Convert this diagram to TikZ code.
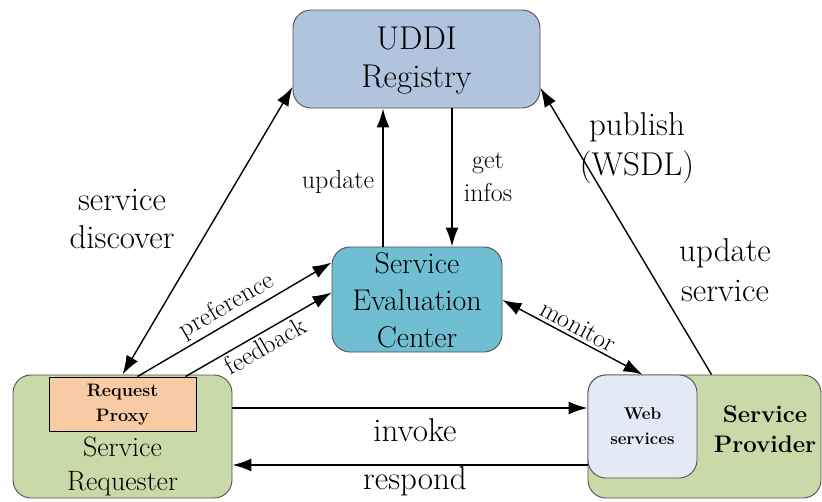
\documentclass[tikz,border=0pt]{standalone}
\usepackage{fontspec}
\usetikzlibrary{arrows.meta}
\definecolor{uddiblue}{HTML}{B0C4DE}
\definecolor{secblue}{HTML}{70BED2}
\definecolor{reqgreen}{HTML}{C9D9A7}
\definecolor{proxypeach}{HTML}{F9CBA5}
\definecolor{webblue}{HTML}{E3E9F5}
\definecolor{edgegray}{HTML}{505050}
\tikzset{
  box/.style={draw=edgegray, line width=0.9pt, rounded corners=18pt, inner sep=0pt},
  big/.style={font=\fontsize{33}{38}\selectfont, align=center, inner sep=0pt},
  mid/.style={font=\fontsize{26}{33}\selectfont, align=center, inner sep=0pt},
  small/.style={font=\bfseries\fontsize{18}{25}\selectfont, align=center, inner sep=0pt},
  tip/.tip={Latex[length=19pt,width=13pt]},
  conn/.style={line width=1.4pt, -tip},
  dconn/.style={line width=1.4pt, tip-tip},
  tconn/.style={line width=1.9pt, -tip},
}
\begin{document}
\begin{tikzpicture}[x=1pt,y=-1pt]
\useasboundingbox (0,0) rectangle (822,501);
% boxes
\node[box, fill=uddiblue, minimum width=247pt, minimum height=98pt] (uddi) at (416.5,59) {};
\node[big] (uddit) at (416.5,61) {UDDI\\Registry};
\node[box, fill=secblue, minimum width=170pt, minimum height=105pt] (sec) at (417,299.5) {};
\node[big, font=\fontsize{30}{37}\selectfont] (sect) at (417,300) {Service\\Evaluation\\Center};
\node[box, fill=reqgreen, minimum width=219pt, minimum height=123pt] (req) at (122.5,436.5) {};
\node[draw=black, line width=0.9pt, fill=proxypeach, minimum width=147pt, minimum height=54pt, inner sep=0pt] (proxy) at (122.5,404) {};
\node[small] (proxyt) at (122.5,405) {Request\\Proxy};
\node[big, font=\fontsize{28}{34}\selectfont] (reqt) at (122.5,466) {Service\\Requester};
\node[box, fill=reqgreen, minimum width=233pt, minimum height=123pt] (prov) at (704.5,436.5) {};
\node[box, fill=webblue, minimum width=109pt, minimum height=103pt] (web) at (642.5,426.5) {};
\node[small, font=\bfseries\fontsize{17}{25}\selectfont] (webt) at (642.5,426) {Web\\services};
\node[big, font=\bfseries\fontsize{24}{30}\selectfont] (provt) at (765,429) {Service\\Provider};
% connectors
\draw[dconn] (req.north) -- ([yshift=-28pt]uddi.west);
\draw[conn] ([xshift=15pt]proxy.north) -- node[mid, sloped, above=3pt] (pref) {preference} ([yshift=37pt]sec.west);
\draw[conn] ([xshift=63pt]proxy.north) -- node[mid, sloped, below=3pt] (feed) {feedback} ([yshift=7pt]sec.west);
\draw[tconn] ([xshift=-34pt]sec.north) -- ([xshift=-34pt]sec.north |- uddi.south);
\draw[tconn] ([xshift=35.5pt]uddi.south) -- ([xshift=35.5pt]uddi.south |- sec.north);
\draw[conn] ([xshift=7pt]prov.north) -- ([yshift=-29pt]uddi.east);
\draw[dconn] ([yshift=-0.5pt]sec.east) -- node[mid, sloped, above=3pt] (mon) {monitor} (web.north);
\draw[tconn] ([yshift=28.5pt]req.east) -- ([yshift=28.5pt]req.east -| web.west);
\draw[tconn] ([yshift=-28.5pt]req.east -| prov.west) -- ([yshift=-28.5pt]req.east);
% labels
\node[big] (disc) at (122,219) {service\\discover};
\node[mid] (upd) at (338,182) {update};
\node[mid] (getinf) at (488,177) {get\\infos};
\node[big, font=\fontsize{33}{40}\selectfont] (pub) at (637,148) {publish\\(WSDL)};
\node[big, font=\fontsize{33}{40}\selectfont] (updsrv) at (725,270) {update\\service};
\node[big] (inv) at (415,430) {invoke};
\node[big] (resp) at (415,481) {respond};
\end{tikzpicture}
\end{document}
